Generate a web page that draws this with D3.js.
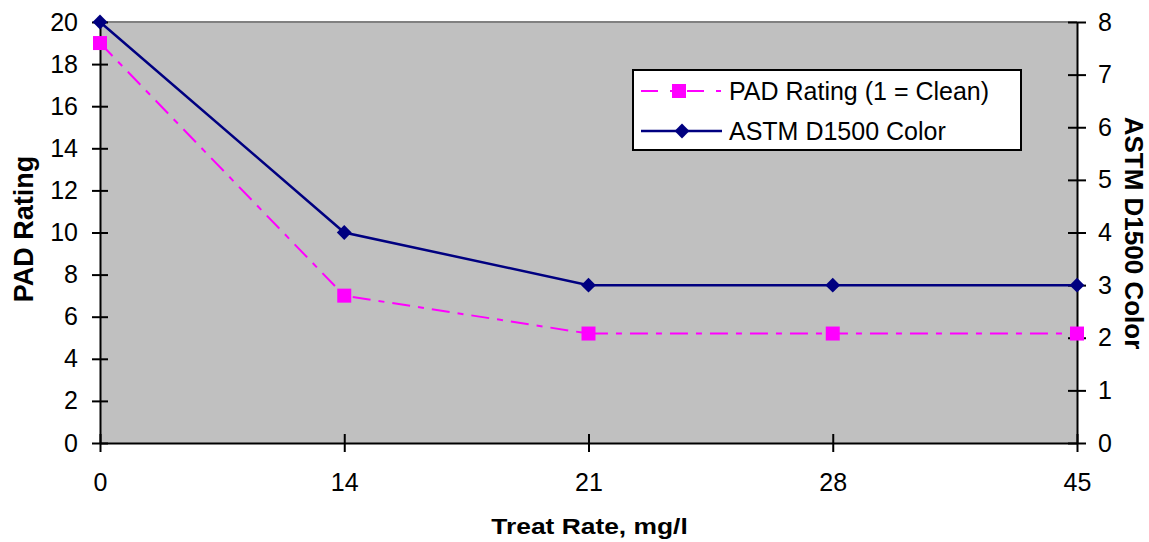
<!DOCTYPE html>
<html>
<head>
<meta charset="utf-8">
<script src="https://cdn.jsdelivr.net/npm/d3@7"></script>
<style>
  body { margin: 0; background: #fff; }
  svg text { font-family: Arial, "Liberation Sans", sans-serif; fill: #000; }
</style>
</head>
<body>
<svg id="chart" width="1149" height="542"></svg>
<script>
var categories = ["0", "14", "21", "28", "45"];
var padRating = [19, 7, 5.2, 5.2, 5.2];
var astmColor = [8, 4, 3, 3, 3];
var leftTicks = [0, 2, 4, 6, 8, 10, 12, 14, 16, 18, 20];
var rightTicks = [0, 1, 2, 3, 4, 5, 6, 7, 8];

var margin = {top: 22, right: 72, bottom: 99, left: 100};
var width = 1149 - margin.left - margin.right;
var height = 542 - margin.top - margin.bottom;

var svg = d3.select("#chart");
var g = svg.append("g")
  .attr("transform", "translate(" + margin.left + "," + margin.top + ")");

var x = d3.scalePoint().domain(categories).range([0, width]);
var yL = d3.scaleLinear().domain([0, 20]).range([height, 0]);
var yR = d3.scaleLinear().domain([0, 8]).range([height, 0]);

// plot area
g.append("rect")
  .attr("width", width).attr("height", height)
  .attr("fill", "#c0c0c0");
g.append("line")
  .attr("x1", 0).attr("x2", width).attr("y1", 0).attr("y2", 0)
  .attr("stroke", "#808080").attr("stroke-width", 2);

function styleAxis(sel){
  sel.attr("font-size", null).attr("font-family", null);
  sel.select(".domain").attr("stroke", "#000").attr("stroke-width", 2);
  sel.selectAll(".tick line").attr("stroke", "#000").attr("stroke-width", 2);
  sel.selectAll(".tick text").style("font-size", "25px").attr("fill", "#000");
}

var xAxis = g.append("g")
  .attr("transform", "translate(0," + height + ")")
  .call(d3.axisBottom(x).tickSize(9).tickSizeOuter(0).tickPadding(21));
xAxis.selectAll(".tick line").attr("y1", -9);
styleAxis(xAxis);

var leftAxis = g.append("g")
  .call(d3.axisLeft(yL).tickValues(leftTicks).tickSize(8).tickSizeOuter(0).tickPadding(14));
leftAxis.selectAll(".tick line").attr("x1", 8);
styleAxis(leftAxis);

var rightAxis = g.append("g")
  .attr("transform", "translate(" + width + ",0)")
  .call(d3.axisRight(yR).tickValues(rightTicks).tickSize(9).tickSizeOuter(0).tickPadding(12));
rightAxis.selectAll(".tick line").attr("x1", -9);
styleAxis(rightAxis);

// axis titles
svg.append("text")
  .attr("transform", "translate(33,229)rotate(-90)")
  .attr("text-anchor", "middle")
  .style("font-size", "27px").style("font-weight", "bold")
  .text("PAD Rating");

svg.append("text")
  .attr("transform", "translate(1125,233)rotate(90)")
  .attr("text-anchor", "middle")
  .style("font-size", "26px").style("font-weight", "bold")
  .text("ASTM D1500 Color");

svg.append("text")
  .attr("transform", "translate(589.5,534)scale(1.2,1)")
  .attr("text-anchor", "middle")
  .style("font-size", "22px").style("font-weight", "bold")
  .text("Treat Rate, mg/l");

// series
var padLine = d3.line()
  .x(function(d, i){ return x(categories[i]); })
  .y(function(d){ return yL(d); });
var astmLine = d3.line()
  .x(function(d, i){ return x(categories[i]); })
  .y(function(d){ return yR(d); });

g.append("path").datum(padRating)
  .attr("d", padLine).attr("fill", "none")
  .attr("stroke", "#ff00ff").attr("stroke-width", 2)
  .attr("stroke-dasharray", "18,8,6,8");

g.append("path").datum(astmColor)
  .attr("d", astmLine).attr("fill", "none")
  .attr("stroke", "#000080").attr("stroke-width", 2.5);

g.selectAll(".pad").data(padRating).enter().append("rect")
  .attr("class", "pad")
  .attr("x", function(d, i){ return x(categories[i]) - 7; })
  .attr("y", function(d){ return yL(d) - 7; })
  .attr("width", 14).attr("height", 14)
  .attr("fill", "#ff00ff");

var diamond = d3.symbol().type(d3.symbolDiamond2).size(140);
g.selectAll(".astm").data(astmColor).enter().append("path")
  .attr("class", "astm")
  .attr("transform", function(d, i){ return "translate(" + x(categories[i]) + "," + yR(d) + ")"; })
  .attr("d", diamond)
  .attr("fill", "#000080");

// legend
var legend = svg.append("g").attr("transform", "translate(633,70)");
legend.append("rect")
  .attr("width", 388).attr("height", 80)
  .attr("fill", "#fff").attr("stroke", "#000").attr("stroke-width", 2);

var l1 = legend.append("g").attr("transform", "translate(0,21)");
l1.append("line").attr("x1", 8).attr("x2", 88)
  .attr("stroke", "#ff00ff").attr("stroke-width", 2)
  .attr("stroke-dasharray", "17,12,5,12");
l1.append("rect").attr("x", 46 - 7).attr("y", -7).attr("width", 14).attr("height", 14)
  .attr("fill", "#ff00ff");
l1.append("text").attr("x", 96).attr("dy", "0.35em")
  .style("font-size", "25px").text("PAD Rating (1 = Clean)");

var l2 = legend.append("g").attr("transform", "translate(0,61)");
l2.append("line").attr("x1", 8).attr("x2", 89)
  .attr("stroke", "#000080").attr("stroke-width", 2.5);
l2.append("path").attr("transform", "translate(49,0)").attr("d", diamond)
  .attr("fill", "#000080");
l2.append("text").attr("x", 96).attr("dy", "0.35em")
  .style("font-size", "25px").text("ASTM D1500 Color");
</script>
</body>
</html>
